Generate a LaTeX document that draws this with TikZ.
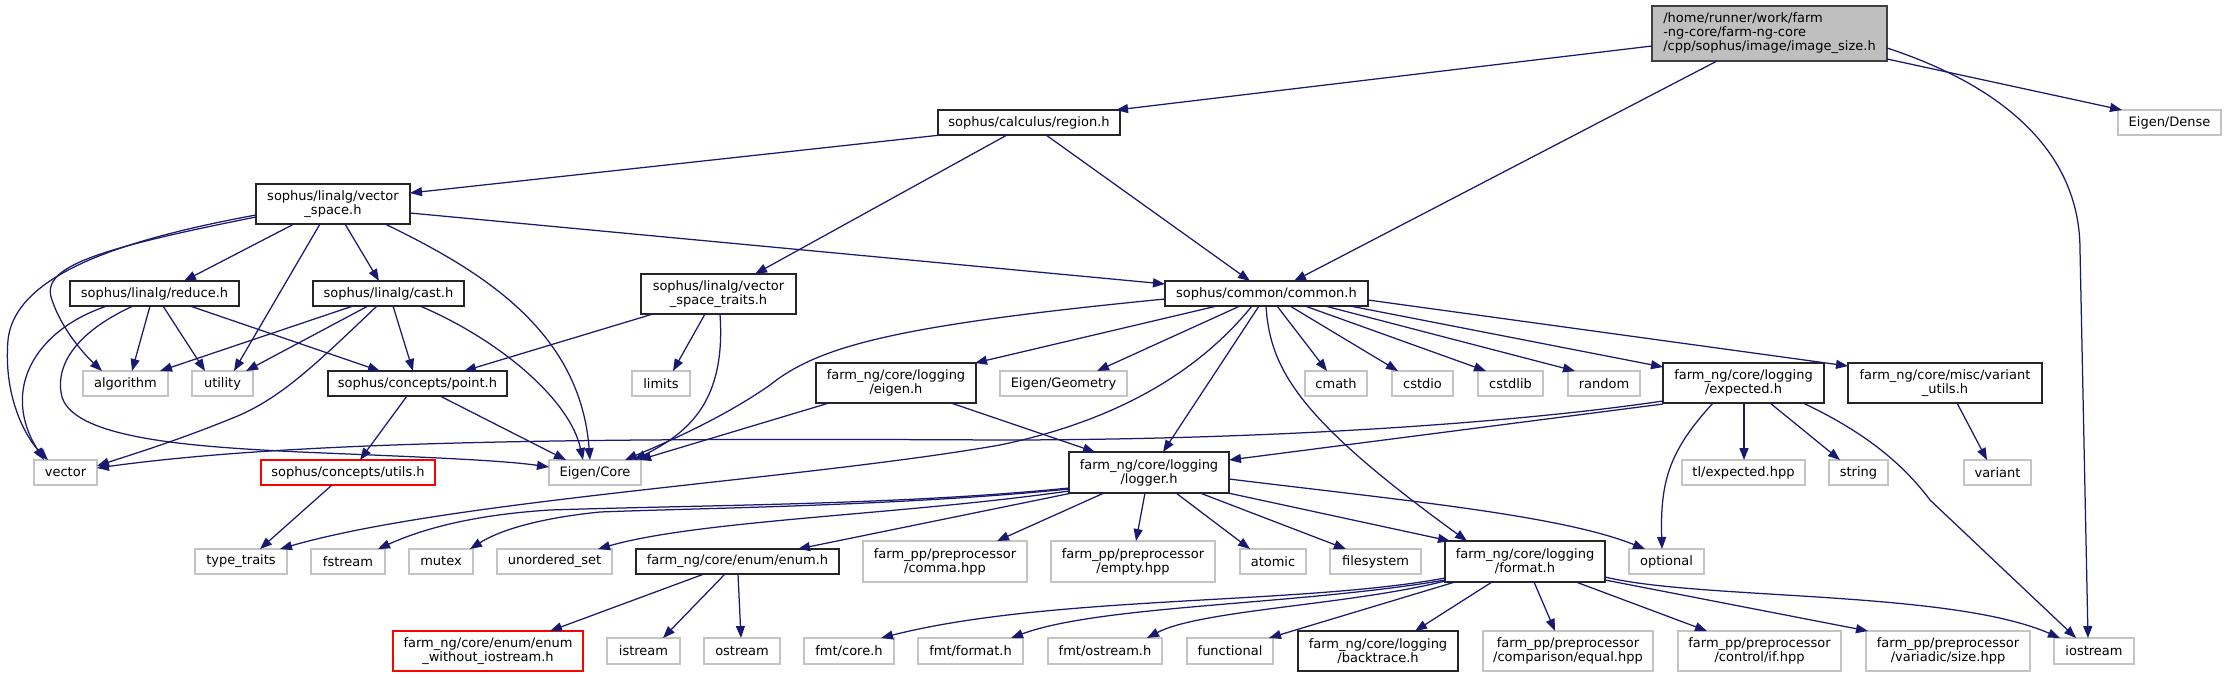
\documentclass[tikz,border=0pt]{standalone}
\usepackage{fontspec}
\setmainfont{DejaVu Sans}
\usetikzlibrary{arrows.meta}
\definecolor{edgeblue}{HTML}{191970}
\definecolor{rootfill}{HTML}{BFBFBF}
\definecolor{rootdraw}{HTML}{404040}
\definecolor{extgray}{HTML}{C4C4C4}
\newcommand\gbox[7]{\node[#1, minimum width={(#4-#3)*1pt}, minimum height={(#6-#5)*1pt}] (#2) at ({(#3+#4)/2},{(#5+#6)/2}) {#7};}
\begin{document}
\begin{tikzpicture}[x=1pt,y=-1pt,
  anybox/.style={draw, inner sep=0pt, outer sep=0pt, line width=1.3pt, font=\fontsize{13}{14}\selectfont, align=center, text=black},
  docbox/.style={anybox, draw=black!85, fill=white},
  extbox/.style={anybox, draw=extgray, fill=white},
  redbox/.style={anybox, draw=red, fill=white},
  rootbox/.style={anybox, draw=rootdraw, fill=rootfill, align=left},
  dep/.style={draw=edgeblue, line width=1.25pt, -{Triangle[length=12pt,width=9pt]}}]
\fill[white] (0,0) rectangle (2226,677);
\useasboundingbox (0,0) rectangle (2226,677);

% nodes
\gbox{rootbox}{root}{1652}{1887}{6}{61}{/home/runner/work/farm\\-ng-core/farm-ng-core\\/cpp/sophus/image/image\_size.h}
\gbox{docbox}{region}{938}{1120}{110}{135}{sophus/calculus/region.h}
\gbox{extbox}{dense}{2118}{2221}{110}{135}{Eigen/Dense}
\gbox{docbox}{vspace}{256}{410}{184}{224}{sophus/linalg/vector\\\_space.h}
\gbox{docbox}{reduce}{70}{239}{281}{306}{sophus/linalg/reduce.h}
\gbox{docbox}{cast}{313}{464}{281}{306}{sophus/linalg/cast.h}
\gbox{docbox}{traits}{641}{796}{274}{314}{sophus/linalg/vector\\\_space\_traits.h}
\gbox{docbox}{common}{1165}{1368}{281}{306}{sophus/common/common.h}
\gbox{extbox}{algorithm}{83}{168}{371}{396}{algorithm}
\gbox{extbox}{utility}{192}{253}{371}{396}{utility}
\gbox{docbox}{point}{328}{507}{371}{396}{sophus/concepts/point.h}
\gbox{extbox}{limits}{632}{690}{371}{396}{limits}
\gbox{docbox}{eigenh}{816}{976}{363}{403}{farm\_ng/core/logging\\/eigen.h}
\gbox{extbox}{geometry}{1000}{1127}{371}{396}{Eigen/Geometry}
\gbox{extbox}{cmath}{1305}{1367}{371}{396}{cmath}
\gbox{extbox}{cstdio}{1392}{1453}{371}{396}{cstdio}
\gbox{extbox}{cstdlib}{1478}{1543}{371}{396}{cstdlib}
\gbox{extbox}{random}{1568}{1640}{371}{396}{random}
\gbox{docbox}{expected}{1663}{1824}{363}{403}{farm\_ng/core/logging\\/expected.h}
\gbox{docbox}{varutils}{1848}{2042}{363}{403}{farm\_ng/core/misc/variant\\\_utils.h}
\gbox{extbox}{vector}{34}{97}{460}{485}{vector}
\gbox{redbox}{utils}{261}{435}{460}{485}{sophus/concepts/utils.h}
\gbox{extbox}{eigencore}{549}{641}{460}{485}{Eigen/Core}
\gbox{docbox}{logger}{1069}{1229}{452}{493}{farm\_ng/core/logging\\/logger.h}
\gbox{extbox}{tlexp}{1682}{1805}{460}{485}{tl/expected.hpp}
\gbox{extbox}{string}{1829}{1888}{460}{485}{string}
\gbox{extbox}{variant}{1964}{2031}{460}{485}{variant}
\gbox{extbox}{typetraits}{195}{287}{549}{574}{type\_traits}
\gbox{extbox}{fstream}{311}{385}{549}{574}{fstream}
\gbox{extbox}{mutex}{409}{473}{549}{574}{mutex}
\gbox{extbox}{unordered}{497}{612}{549}{574}{unordered\_set}
\gbox{docbox}{enumh}{636}{839}{549}{574}{farm\_ng/core/enum/enum.h}
\gbox{extbox}{comma}{863}{1027}{541}{582}{farm\_pp/preprocessor\\/comma.hpp}
\gbox{extbox}{emptyhpp}{1051}{1215}{541}{582}{farm\_pp/preprocessor\\/empty.hpp}
\gbox{extbox}{atomic}{1240}{1306}{549}{574}{atomic}
\gbox{extbox}{filesystem}{1330}{1421}{549}{574}{filesystem}
\gbox{docbox}{format}{1445}{1605}{541}{582}{farm\_ng/core/logging\\/format.h}
\gbox{extbox}{optional}{1629}{1704}{549}{574}{optional}
\gbox{redbox}{enumwo}{393}{583}{631}{671}{farm\_ng/core/enum/enum\\\_without\_iostream.h}
\gbox{extbox}{istream}{607}{680}{638}{664}{istream}
\gbox{extbox}{ostream}{704}{780}{638}{664}{ostream}
\gbox{extbox}{fmtcore}{804}{894}{638}{664}{fmt/core.h}
\gbox{extbox}{fmtformat}{918}{1023}{638}{664}{fmt/format.h}
\gbox{extbox}{fmtostream}{1048}{1162}{638}{664}{fmt/ostream.h}
\gbox{extbox}{functional}{1187}{1273}{638}{664}{functional}
\gbox{docbox}{backtrace}{1298}{1458}{631}{671}{farm\_ng/core/logging\\/backtrace.h}
\gbox{extbox}{equal}{1483}{1653}{631}{671}{farm\_pp/preprocessor\\/comparison/equal.hpp}
\gbox{extbox}{ifhpp}{1678}{1841}{631}{671}{farm\_pp/preprocessor\\/control/if.hpp}
\gbox{extbox}{sizehpp}{1866}{2030}{631}{671}{farm\_pp/preprocessor\\/variadic/size.hpp}
\gbox{extbox}{iostream}{2054}{2134}{638}{664}{iostream}

% edges from root
\draw[dep] (root.west |- 0,46) -- (1116,0 |- region.north);
\draw[dep] (1717,0 |- root.south) -- (1294,0 |- common.north);
\draw[dep] (root.east |- 0,59) -- (2122,0 |- dense.north);
\draw[dep] (root.east |- 0,48) .. controls (2000,85) and (2080,150) .. (2080,250) -- (2088,0 |- iostream.north);
% region
\draw[dep] (941,0 |- region.south) -- (vspace.east |- 0,193);
\draw[dep] (1007,0 |- region.south) -- (755,0 |- traits.north);
\draw[dep] (1046,0 |- region.south) -- (1250,0 |- common.north);
% vector_space
\draw[dep] (294,0 |- vspace.south) -- (184,0 |- reduce.north);
\draw[dep] (345,0 |- vspace.south) -- (379,0 |- cast.north);
\draw[dep] (vspace.east |- 0,213) -- (common.west |- 0,284);
\draw[dep] (vspace.west |- 0,215) .. controls (120,240) and (15,275) .. (8,340) .. controls (3,400) and (28,440) .. (48,0 |- vector.north);
\draw[dep] (vspace.west |- 0,217) .. controls (90,250) and (40,268) .. (52,300) .. controls (62,330) and (85,355) .. (102,0 |- algorithm.north);
\draw[dep] (320,0 |- vspace.south) -- (234,0 |- utility.north);
\draw[dep] (385,0 |- vspace.south) .. controls (480,270) and (580,330) .. (590,0 |- eigencore.north);
% reduce
\draw[dep] (107,0 |- reduce.south) .. controls (35,330) and (0,390) .. (44,0 |- vector.north);
\draw[dep] (133,0 |- reduce.south) .. controls (70,335) and (55,370) .. (62,397) .. controls (75,440) and (200,447) .. (300,452) .. controls (420,457) and (500,460) .. (eigencore.west |- 0,467);
\draw[dep] (150,0 |- reduce.south) -- (132,0 |- algorithm.north);
\draw[dep] (163,0 |- reduce.south) -- (205,0 |- utility.north);
\draw[dep] (190,0 |- reduce.south) -- (380,0 |- point.north);
% cast
\draw[dep] (353,0 |- cast.south) -- (160,0 |- algorithm.north);
\draw[dep] (368,0 |- cast.south) -- (246,0 |- utility.north);
\draw[dep] (377,0 |- cast.south) .. controls (320,360) and (285,395) .. (240,415) .. controls (180,440) and (130,455) .. (vector.east |- 0,466);
\draw[dep] (393,0 |- cast.south) -- (413,0 |- point.north);
\draw[dep] (420,0 |- cast.south) .. controls (500,340) and (570,400) .. (583,0 |- eigencore.north);
% traits
\draw[dep] (653,0 |- traits.south) -- (464,0 |- point.north);
\draw[dep] (705,0 |- traits.south) -- (673,0 |- limits.north);
\draw[dep] (720,0 |- traits.south) .. controls (726,400) and (690,432) .. (634,0 |- eigencore.north);
% point, utils
\draw[dep] (407,0 |- point.south) -- (360,0 |- utils.north);
\draw[dep] (440,0 |- point.south) -- (566,0 |- eigencore.north);
\draw[dep] (332,0 |- utils.south) -- (260,0 |- typetraits.north);
% common
\draw[dep] (common.west |- 0,299) .. controls (900,325) and (820,345) .. (770,385) .. controls (720,420) and (660,445) .. (625,0 |- eigencore.north);
\draw[dep] (1217,0 |- common.south) -- (975,0 |- eigenh.north);
\draw[dep] (1240,0 |- common.south) -- (1097,0 |- geometry.north);
\draw[dep] (1252,0 |- common.south) .. controls (1200,370) and (1120,420) .. (1000,445) .. controls (800,480) and (450,500) .. (280,0 |- typetraits.north);
\draw[dep] (1259,0 |- common.south) -- (1163,0 |- logger.north);
\draw[dep] (1266,0 |- common.south) .. controls (1270,370) and (1300,420) .. (1467,0 |- format.north);
\draw[dep] (1277,0 |- common.south) -- (1327,0 |- cmath.north);
\draw[dep] (1290,0 |- common.south) -- (1398,0 |- cstdio.north);
\draw[dep] (1305,0 |- common.south) -- (1486,0 |- cstdlib.north);
\draw[dep] (1325,0 |- common.south) -- (1575,0 |- random.north);
\draw[dep] (1350,0 |- common.south) -- (expected.west |- 0,367);
\draw[dep] (common.east |- 0,300) -- (varutils.west |- 0,366);
% eigen.h
\draw[dep] (829,0 |- eigenh.south) -- (639,0 |- eigencore.north);
\draw[dep] (951,0 |- eigenh.south) -- (1095,0 |- logger.north);
% expected.h
\draw[dep] (expected.west |- 0,401) .. controls (1500,425) and (1250,440) .. (1000,440) .. controls (600,438) and (300,440) .. (vector.east |- 0,468);
\draw[dep] (expected.west |- 0,404) -- (logger.east |- 0,460);
\draw[dep] (1713,0 |- expected.south) .. controls (1670,450) and (1660,480) .. (1662,0 |- optional.north);
\draw[dep] (1744,0 |- expected.south) -- (1744,0 |- tlexp.north);
\draw[dep] (1770,0 |- expected.south) -- (1840,0 |- string.north);
\draw[dep] (1803,0 |- expected.south) .. controls (1860,430) and (1900,460) .. (1930,500) -- (2076,0 |- iostream.north);
\draw[dep] (1957,0 |- varutils.south) -- (1987,0 |- variant.north);
% logger
\draw[dep] (logger.west |- 0,488) .. controls (900,505) and (700,505) .. (550,510) .. controls (470,515) and (420,530) .. (378,0 |- fstream.north);
\draw[dep] (logger.west |- 0,489) .. controls (900,506) and (700,508) .. (600,512) .. controls (540,518) and (500,530) .. (470,0 |- mutex.north);
\draw[dep] (logger.west |- 0,491) .. controls (900,515) and (700,520) .. (598,0 |- unordered.north);
\draw[dep] (1072,0 |- logger.south) -- (798,0 |- enumh.north);
\draw[dep] (1104,0 |- logger.south) -- (997,0 |- comma.north);
\draw[dep] (1145,0 |- logger.south) -- (1136,0 |- emptyhpp.north);
\draw[dep] (1176,0 |- logger.south) -- (1250,0 |- atomic.north);
\draw[dep] (1200,0 |- logger.south) -- (1346,0 |- filesystem.north);
\draw[dep] (1228,0 |- logger.south) -- (1450,0 |- format.north);
\draw[dep] (logger.east |- 0,479) .. controls (1400,500) and (1560,515) .. (1645,0 |- optional.north);
% enum.h
\draw[dep] (704,0 |- enumh.south) -- (550,0 |- enumwo.north);
\draw[dep] (725,0 |- enumh.south) -- (663,0 |- istream.north);
\draw[dep] (738,0 |- enumh.south) -- (741,0 |- ostream.north);
% format.h
\draw[dep] (format.west |- 0,578) .. controls (1300,605) and (1050,595) .. (881,0 |- fmtcore.north);
\draw[dep] (format.west |- 0,580) .. controls (1300,605) and (1100,605) .. (1011,0 |- fmtformat.north);
\draw[dep] (format.west |- 0,581) .. controls (1350,605) and (1200,610) .. (1147,0 |- fmtostream.north);
\draw[dep] (1455,0 |- format.south) -- (1269,0 |- functional.north);
\draw[dep] (1492,0 |- format.south) -- (1415,0 |- backtrace.north);
\draw[dep] (1534,0 |- format.south) -- (1555,0 |- equal.north);
\draw[dep] (1576,0 |- format.south) -- (1707,0 |- ifhpp.north);
\draw[dep] (format.east |- 0,580) -- (1868,0 |- sizehpp.north);
\draw[dep] (format.east |- 0,577) .. controls (1700,600) and (1950,590) .. (2060,0 |- iostream.north);
\end{tikzpicture}
\end{document}
